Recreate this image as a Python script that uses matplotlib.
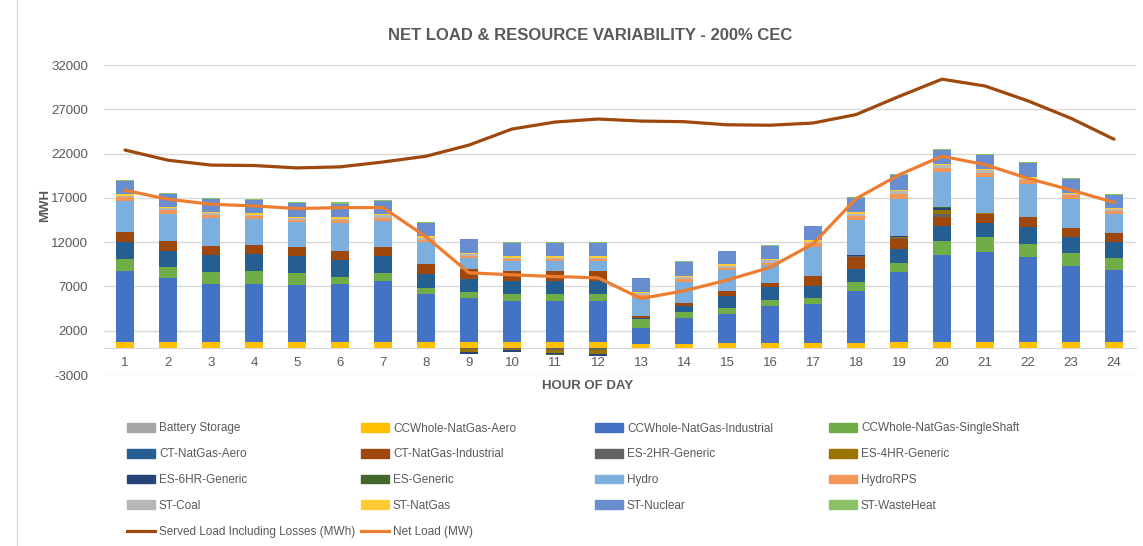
import numpy as np
import matplotlib
matplotlib.use("Agg")
import matplotlib.pyplot as plt
from matplotlib.patches import Patch
from matplotlib.lines import Line2D

plt.rcParams['font.family'] = ['Liberation Sans', 'DejaVu Sans']
plt.rcParams['axes.unicode_minus'] = False

# Hour of day
hours = list(range(1, 25))

# Generation by resource (MWh), bottom to top of the stack
battery_storage = [0, 0, 0, 0, 0, 0, 0, 0, 0, 0, 0, 0, 0, 0, 0, 0, 0, 0, 0, 0, 0, 0, 0, 0]
ccw_aero = [680, 680, 680, 680, 680, 680, 680, 680, 680, 680, 680, 680, 490, 490, 600, 600, 600, 600, 680, 680, 680, 680, 680, 680]
ccw_industrial = [8040, 7220, 6540, 6610, 6460, 6540, 6950, 5450, 4960, 4660, 4660, 4660, 1770, 2930, 3240, 4210, 4400, 5900, 7930, 9850, 10220, 9620, 8610, 8190]
ccw_singleshaft = [1390, 1310, 1390, 1430, 1320, 830, 830, 680, 710, 750, 750, 750, 1010, 640, 710, 640, 640, 980, 1020, 1580, 1700, 1540, 1500, 1360]
ct_aero = [1880, 1810, 1960, 1920, 1920, 1910, 1920, 1540, 1510, 1540, 1540, 1540, 150, 720, 1390, 1430, 1390, 1540, 1570, 1690, 1580, 1920, 1840, 1760]
ct_industrial = [1170, 1090, 1050, 1020, 1050, 1060, 1050, 1130, 1090, 1090, 1090, 1090, 230, 370, 530, 490, 1170, 1320, 1210, 1010, 1050, 1050, 980, 1020]
es_2hr = [0, 0, 0, 0, 0, 0, 0, 0, -100, -80, -150, -200, 0, 0, 0, 0, 0, 40, 60, 340, 0, 0, 0, 0]
es_4hr = [0, 0, 0, 0, 0, 0, 0, 0, -330, -150, -350, -450, 0, 0, 0, 0, 0, 100, 150, 490, 40, 0, 0, 0]
es_6hr = [0, 0, 0, 0, 0, 0, 0, 0, -150, -120, -150, -150, 0, 0, 0, 0, 0, 60, 80, 230, 0, 0, 0, 0]
es_generic = [0, 0, 0, 0, 0, 0, 0, 0, -100, -70, -100, -100, 0, 0, 0, 0, 0, 0, 0, 75, 0, 0, 0, 0]
hydro = [3460, 3040, 3080, 2970, 2820, 3160, 2970, 2520, 1310, 1130, 1130, 1130, 2070, 2370, 2330, 2030, 3270, 3930, 4210, 3950, 4130, 3730, 3310, 2140]
hydro_rps = [450, 530, 420, 330, 300, 330, 380, 260, 190, 230, 230, 230, 300, 340, 300, 260, 450, 450, 530, 490, 420, 450, 380, 420]
st_coal = [150, 150, 180, 160, 150, 150, 260, 220, 190, 180, 180, 180, 230, 190, 220, 270, 110, 300, 300, 300, 300, 190, 150, 150]
st_natgas = [190, 190, 120, 150, 190, 230, 150, 190, 190, 160, 160, 160, 150, 180, 160, 150, 190, 190, 190, 190, 190, 220, 150, 180]
st_nuclear = [1540, 1460, 1500, 1460, 1500, 1470, 1470, 1510, 1500, 1500, 1500, 1500, 1500, 1550, 1500, 1500, 1580, 1610, 1610, 1540, 1540, 1580, 1540, 1470]
st_wasteheat = [110, 120, 110, 110, 120, 150, 70, 70, 80, 110, 110, 110, 80, 70, 70, 80, 70, 120, 110, 75, 70, 110, 110, 110]

# Lines
served_load = [22400, 21250, 20700, 20650, 20380, 20500, 21050, 21700, 22960, 24770, 25560, 25900,
               25670, 25600, 25250, 25200, 25450, 26400, 28450, 30400, 29630, 27950, 25980, 23620]
net_load = [17860, 16840, 16280, 16090, 15790, 15900, 15900, 12600, 8540, 8310, 8120, 7970,
            5640, 6500, 7710, 9150, 11800, 16900, 19600, 21700, 20750, 19200, 17880, 16490]

series = [
    ("Battery Storage", battery_storage, "#A5A5A5"),
    ("CCWhole-NatGas-Aero", ccw_aero, "#FFC000"),
    ("CCWhole-NatGas-Industrial", ccw_industrial, "#4472C4"),
    ("CCWhole-NatGas-SingleShaft", ccw_singleshaft, "#70AD47"),
    ("CT-NatGas-Aero", ct_aero, "#255E91"),
    ("CT-NatGas-Industrial", ct_industrial, "#9E480E"),
    ("ES-2HR-Generic", es_2hr, "#636363"),
    ("ES-4HR-Generic", es_4hr, "#997300"),
    ("ES-6HR-Generic", es_6hr, "#264478"),
    ("ES-Generic", es_generic, "#43682B"),
    ("Hydro", hydro, "#7CAFDD"),
    ("HydroRPS", hydro_rps, "#F1975A"),
    ("ST-Coal", st_coal, "#B7B7B7"),
    ("ST-NatGas", st_natgas, "#FFCD33"),
    ("ST-Nuclear", st_nuclear, "#698ED0"),
    ("ST-WasteHeat", st_wasteheat, "#8CC168"),
]

text_col = "#595959"
grid_col = "#D9D9D9"

fig = plt.figure(figsize=(11.43, 5.46), dpi=100)
ax = fig.add_axes([103.5 / 1143, 1 - 375 / 546, 1032 / 1143, 310 / 546])

# stacked bars, positives up from zero and negatives down from zero
pos_bottom = np.zeros(len(hours))
neg_bottom = np.zeros(len(hours))
for name, vals, col in series:
    v = np.array(vals, dtype=float)
    bottom = np.where(v >= 0, pos_bottom, neg_bottom)
    ax.bar(hours, v, bottom=bottom, width=0.4, color=col, zorder=2)
    pos_bottom += np.where(v > 0, v, 0)
    neg_bottom += np.where(v < 0, v, 0)

ax.plot(hours, served_load, color="#9E480E", lw=2.3, zorder=3, solid_capstyle='round')
ax.plot(hours, net_load, color="#ED7D31", lw=2.3, zorder=3, solid_capstyle='round')

ax.set_xlim(0.5, 24.5)
ax.set_ylim(-3000, 32000)
ax.set_yticks(np.arange(-3000, 32001, 5000))
ax.set_xticks(hours)
ax.grid(axis='y', color=grid_col, lw=1, zorder=0)
for s in ['top', 'right', 'left']:
    ax.spines[s].set_visible(False)
ax.spines['bottom'].set_position(('data', 0))
ax.spines['bottom'].set_color(grid_col)
ax.spines['bottom'].set_zorder(1)
ax.tick_params(axis='both', length=0, labelsize=9.5, labelcolor=text_col)
ax.tick_params(axis='x', pad=6)
ax.tick_params(axis='y', pad=11)

fig.text(45 / 1143, 1 - 205 / 546, "MWH", ha='center', va='center', rotation=90,
         fontsize=9.5, fontweight='bold', color=text_col)
fig.text(588 / 1143, 1 - 386 / 546, "HOUR OF DAY", ha='center', va='center',
         fontsize=9.5, fontweight='bold', color=text_col)
fig.text(590 / 1143, 1 - 35 / 546, "NET LOAD & RESOURCE VARIABILITY - 200% CEC",
         ha='center', va='center', fontsize=12, fontweight='bold', color=text_col)

# legend laid out in four fixed columns, row-major like the original
entries = [(Patch(color=c), n) for n, _, c in series]
entries += [(Line2D([], [], color="#9E480E", lw=2.3), "Served Load Including Losses (MWh)"),
            (Line2D([], [], color="#ED7D31", lw=2.3), "Net Load (MW)")]
col_x = [127, 361, 595, 829]
for ci, x in enumerate(col_x):
    col_entries = entries[ci::4]
    fig.legend([h for h, _ in col_entries], [l for _, l in col_entries],
               loc='upper left', bbox_to_anchor=(x / 1143, 1 - 422.5 / 546),
               frameon=False, fontsize=8.5, labelcolor=text_col,
               handlelength=2.4, handleheight=0.75, handletextpad=0.3,
               labelspacing=1.17, borderpad=0, borderaxespad=0)

fig.add_artist(Line2D([17 / 1143, 17 / 1143], [0, 1], color=grid_col, lw=1))

fig.savefig("out.png", dpi=100)
